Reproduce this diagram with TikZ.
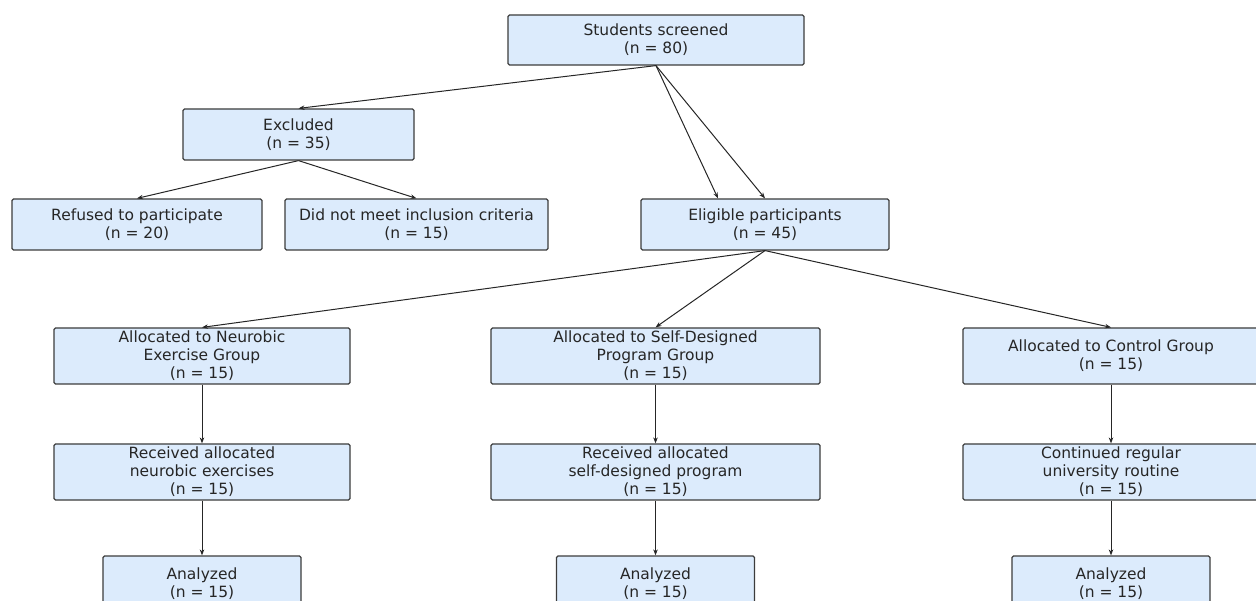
\documentclass[tikz,border=0pt]{standalone}
\usepackage{fontspec}
\setmainfont{DejaVu Sans}
\usetikzlibrary{arrows.meta,calc}
\definecolor{boxfill}{HTML}{DCEBFC}
\definecolor{boxline}{HTML}{3C3C3C}
\definecolor{txt}{HTML}{262626}
\begin{document}
\begin{tikzpicture}[x=1pt,y=-1pt,
  box/.style={draw=boxline,fill=boxfill,line width=1.2pt,rounded corners=1.5pt,
    inner sep=0pt,align=center,text=txt,
    font=\fontsize{15.5}{18}\selectfont},
  conn/.style={draw=black!85,line width=1pt,-{Stealth[length=6pt,width=4.5pt]}}]
\useasboundingbox (0,0) rectangle (1256,601);
\node[box,minimum width=296pt,minimum height=50pt] (ss) at (656,40) {Students screened\\(n = 80)};
\node[box,minimum width=231pt,minimum height=51pt] (ex) at (298.5,134.5) {Excluded\\(n = 35)};
\node[box,minimum width=250pt,minimum height=51pt] (ref) at (137,224.5) {Refused to participate\\(n = 20)};
\node[box,minimum width=263pt,minimum height=51pt] (dnm) at (416.5,224.5) {Did not meet inclusion criteria\\(n = 15)};
\node[box,minimum width=248pt,minimum height=51pt] (el) at (765,224.5) {Eligible participants\\(n = 45)};
\node[box,minimum width=296pt,minimum height=56pt] (a1) at (202,356) {Allocated to Neurobic\\Exercise Group\\(n = 15)};
\node[box,minimum width=329pt,minimum height=56pt] (a2) at (655.5,356) {Allocated to Self-Designed\\Program Group\\(n = 15)};
\node[box,minimum width=296pt,minimum height=56pt] (a3) at (1111,356) {Allocated to Control Group\\(n = 15)};
\node[box,minimum width=296pt,minimum height=56pt] (r1) at (202,472) {Received allocated\\neurobic exercises\\(n = 15)};
\node[box,minimum width=329pt,minimum height=56pt] (r2) at (655.5,472) {Received allocated\\self-designed program\\(n = 15)};
\node[box,minimum width=296pt,minimum height=56pt] (r3) at (1111,472) {Continued regular\\university routine\\(n = 15)};
\node[box,minimum width=198pt,minimum height=56pt] (n1) at (202,584) {Analyzed\\(n = 15)};
\node[box,minimum width=198pt,minimum height=56pt] (n2) at (655.5,584) {Analyzed\\(n = 15)};
\node[box,minimum width=198pt,minimum height=56pt] (n3) at (1111,584) {Analyzed\\(n = 15)};
\coordinate (elL) at ($(el.north)+(-47,0)$);
\draw[conn] (ss.south) -- (ex.north);
\draw[conn] (ss.south) -- (elL);
\draw[conn] (ss.south) -- (el.north);
\draw[conn] (ex.south) -- (ref.north);
\draw[conn] (ex.south) -- (dnm.north);
\draw[conn] (el.south) -- (a1.north);
\draw[conn] (el.south) -- (a2.north);
\draw[conn] (el.south) -- (a3.north);
\draw[conn] (a1) -- (r1);
\draw[conn] (a2) -- (r2);
\draw[conn] (a3) -- (r3);
\draw[conn] (r1) -- (n1);
\draw[conn] (r2) -- (n2);
\draw[conn] (r3) -- (n3);
\end{tikzpicture}
\end{document}
